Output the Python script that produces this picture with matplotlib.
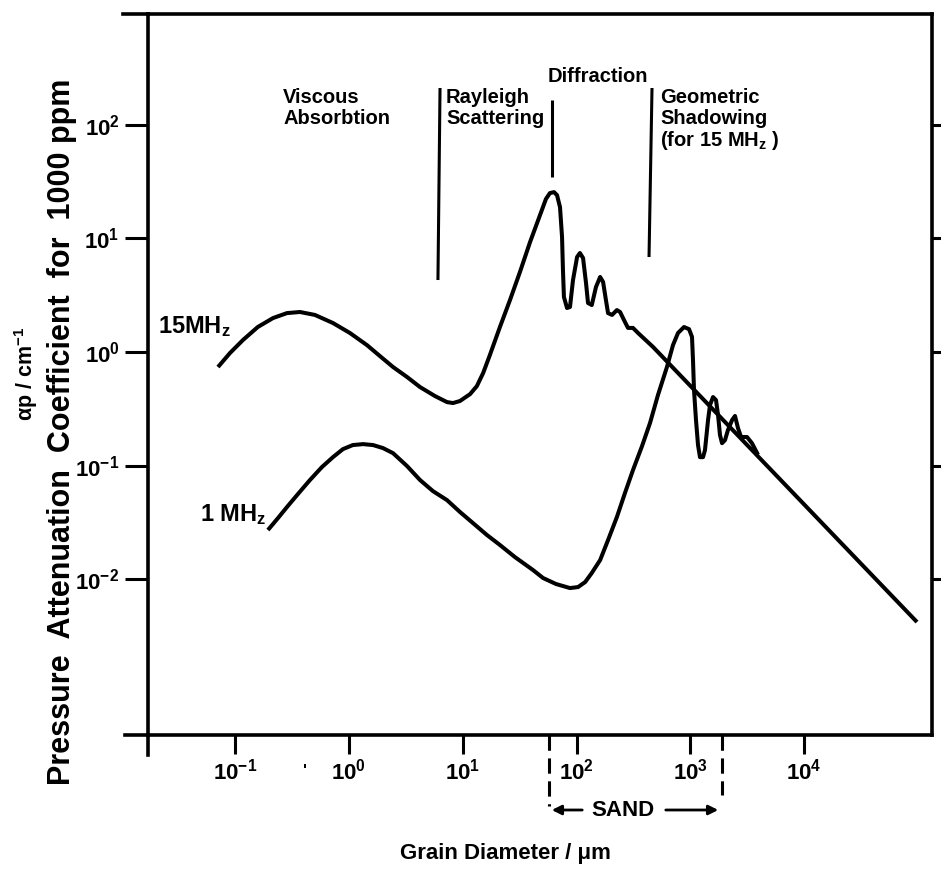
import numpy as np
import matplotlib
matplotlib.use("Agg")
import matplotlib.pyplot as plt

plt.rcParams['font.family'] = ['Liberation Sans', 'DejaVu Sans']
plt.rcParams['font.weight'] = 'bold'
plt.rcParams['mathtext.default'] = 'regular'

# ---------------- data (grain diameter in um, attenuation in 1/cm) ----------------
d_15 = [0.0706, 0.090, 0.117, 0.158, 0.215, 0.285, 0.371, 0.502, 0.723, 1.02,
        1.44, 1.87, 2.44, 3.24, 4.21, 5.70, 7.26, 8.20, 9.45, 11.6,
        13.3, 15.1, 17.3, 21.2, 26.0, 31.8, 39.0, 47.7, 53.8, 58.3,
        63.3, 67.3, 71.5, 74.5, 75.9, 77.4, 82.4, 87.5, 93.0, 101,
        107, 114, 121, 126, 136, 148, 161, 171, 181, 189,
        205, 226, 241, 266, 283, 313, 347, 469, 98000]
a_15 = [0.738, 0.980, 1.275, 1.66, 1.99, 2.20, 2.25, 2.12, 1.80, 1.47,
        1.15, 0.922, 0.738, 0.603, 0.492, 0.410, 0.363, 0.356, 0.371, 0.427,
        0.502, 0.654, 0.941, 1.66, 2.87, 5.06, 9.27, 16.0, 22.2, 25.0,
        25.5, 24.0, 18.8, 10.3, 5.26, 3.05, 2.44, 2.49, 4.30, 6.85,
        7.43, 6.71, 4.05, 2.70, 2.59, 3.73, 4.57, 4.13, 2.87, 2.20,
        2.12, 2.34, 2.25, 1.84, 1.63, 1.63, 1.47, 1.11, 0.00422]

d_1 = [0.194, 0.238, 0.285, 0.356, 0.454, 0.579, 0.723, 0.885, 1.08, 1.33,
       1.63, 1.99, 2.44, 3.24, 4.21, 5.47, 7.26, 9.45, 12.3, 16.3,
       21.2, 28.8, 41.4, 50.7, 65.9, 87.5, 103, 119, 136, 161,
       189, 226, 266, 313, 376, 442, 519, 622, 703, 778,
       879, 973, 1033, 1054, 1076, 1120, 1167, 1214, 1291, 1343,
       1429, 1487, 1581, 1679, 1750, 1820, 1897, 2014, 2138, 2323,
       2466, 2618, 2786, 3142, 3475, 3926]
a_1 = [0.0272, 0.0347, 0.0433, 0.0564, 0.0749, 0.0975, 0.119, 0.140, 0.152, 0.155,
       0.152, 0.143, 0.129, 0.0993, 0.0749, 0.0598, 0.0499, 0.0392, 0.0313, 0.0246,
       0.0201, 0.0157, 0.0121, 0.0103, 0.00912, 0.00840, 0.00857, 0.00949, 0.0114, 0.0148,
       0.0222, 0.0354, 0.0575, 0.0916, 0.149, 0.238, 0.419, 0.738, 1.15, 1.47,
       1.66, 1.59, 1.36, 0.851, 0.463, 0.252, 0.152, 0.119, 0.119, 0.137,
       0.252, 0.342, 0.402, 0.378, 0.279, 0.186, 0.158, 0.168, 0.206, 0.252,
       0.274, 0.215, 0.179, 0.179, 0.158, 0.125]

# regime boundary markers: (x_top, x_bottom, y_top, y_bottom)
boundary_x_top = [6.31, 60.8, 460]
boundary_x_bot = [6.05, 60.8, 433]
boundary_y_top = [210, 164, 210]
boundary_y_bot = [4.30, 34.6, 6.85]

sand_limits = [57, 1900]

x_tick_exps = [-1, 0, 1, 2, 3, 4]
y_tick_exps = [-2, -1, 0, 1, 2]

# ---------------- figure ----------------
W, H = 941, 869
fig = plt.figure(figsize=(W / 100, H / 100), dpi=100)
L, R, T, B = 148, 932, 14, 735
ax = fig.add_axes([L / W, 1 - B / H, (R - L) / W, (B - T) / H])
ax.set_xscale('log')
ax.set_yscale('log')
ax.set_xlim(10 ** -1.766, 10 ** 5.123)
ax.set_ylim(10 ** -3.368, 10 ** 2.973)

lw_curve = 2.9
ax.plot(d_15, a_15, color='black', lw=lw_curve, solid_joinstyle='round', solid_capstyle='butt')
ax.plot(d_1, a_1, color='black', lw=lw_curve, solid_joinstyle='round', solid_capstyle='butt')

for xt, xb, yt, yb in zip(boundary_x_top, boundary_x_bot, boundary_y_top, boundary_y_bot):
    ax.plot([xt, xb], [yt, yb], color='black', lw=2.2, solid_capstyle='butt')

# spines
for s in ax.spines.values():
    s.set_linewidth(2.6)
    s.set_color('black')

ax.set_xticks([10.0 ** e for e in x_tick_exps])
ax.set_xticklabels([r'$10^{%d}$' % e for e in x_tick_exps])
ax.set_yticks([10.0 ** e for e in y_tick_exps])
ax.set_yticklabels([r'$10^{%d}$' % e for e in y_tick_exps])
ax.xaxis.set_minor_locator(matplotlib.ticker.NullLocator())
ax.yaxis.set_minor_locator(matplotlib.ticker.NullLocator())
ax.tick_params(axis='x', direction='out', length=14, width=2.2, pad=3, labelsize=16)
ax.tick_params(axis='y', direction='out', length=16.5, width=2.2, pad=4, labelsize=16)

# right-side outward ticks
ytr = ax.get_yaxis_transform()
for e in y_tick_exps:
    ax.plot([1.0, 1.0 + 9 / (R - L)], [10.0 ** e, 10.0 ** e], color='black', lw=2.2,
            transform=ytr, clip_on=False, solid_capstyle='butt')

# axis line extensions past the corners
ax.plot([-23 / (R - L), 0], [0, 0], color='black', lw=2.6, transform=ax.transAxes, clip_on=False)
ax.plot([-25 / (R - L), 0], [1, 1], color='black', lw=2.6, transform=ax.transAxes, clip_on=False)
ax.plot([0, 0], [-20 / (B - T), 0], color='black', lw=2.6, transform=ax.transAxes, clip_on=False)

# SAND markers
xtr = ax.get_xaxis_transform()
ax.plot([sand_limits[0]] * 2, [0, -(806 - B) / (B - T)], color='black', lw=2.2,
        ls=(0, (5, 2.5)), transform=xtr, clip_on=False)
ax.plot([sand_limits[1]] * 2, [0, -(795 - B) / (B - T)], color='black', lw=2.2,
        ls=(0, (5, 2.5)), transform=xtr, clip_on=False)


def fx(px):
    return px / W


def fy(py):
    return 1 - py / H


ax.annotate('', xy=(fx(549), fy(810)), xytext=(fx(585), fy(810)), xycoords='figure fraction',
            textcoords='figure fraction',
            arrowprops=dict(arrowstyle='-|>', lw=2.0, color='black', mutation_scale=14))
ax.annotate('', xy=(fx(721), fy(810)), xytext=(fx(663), fy(810)), xycoords='figure fraction',
            textcoords='figure fraction',
            arrowprops=dict(arrowstyle='-|>', lw=2.0, color='black', mutation_scale=14))
fig.text(fx(623), fy(810), 'SAND', ha='center', va='center', fontsize=16)

# labels
fig.text(fx(505), fy(853), 'Grain Diameter / μm', ha='center', va='center', fontsize=16)
fig.text(fx(62), fy(432), 'Pressure  Attenuation  Coefficient  for  1000 ppm', rotation=90,
         ha='center', va='center', fontsize=22)
fig.text(fx(26), fy(374), r'αp / cm$^{-1}$', rotation=90, ha='center', va='center', fontsize=15.5)

fig.text(fx(283), fy(88), 'Viscous\nAbsorbtion', ha='left', va='top', fontsize=14.5, linespacing=1.1)
fig.text(fx(446), fy(88), 'Rayleigh\nScattering', ha='left', va='top', fontsize=14.5, linespacing=1.1)
fig.text(fx(548), fy(77), 'Diffraction', ha='left', va='center', fontsize=14.5)
fig.text(fx(660), fy(88), 'Geometric\nShadowing\n(for 15 MH$_z$ )', ha='left', va='top',
         fontsize=14.5, linespacing=1.1)

fig.text(fx(158), fy(327), '15MH$_z$', ha='left', va='center', fontsize=17)
fig.text(fx(200), fy(515), '1 MH$_z$', ha='left', va='center', fontsize=17)
fig.text(fx(305), fy(772), "'", ha='center', va='center', fontsize=12)

fig.savefig('out.png', dpi=100)
